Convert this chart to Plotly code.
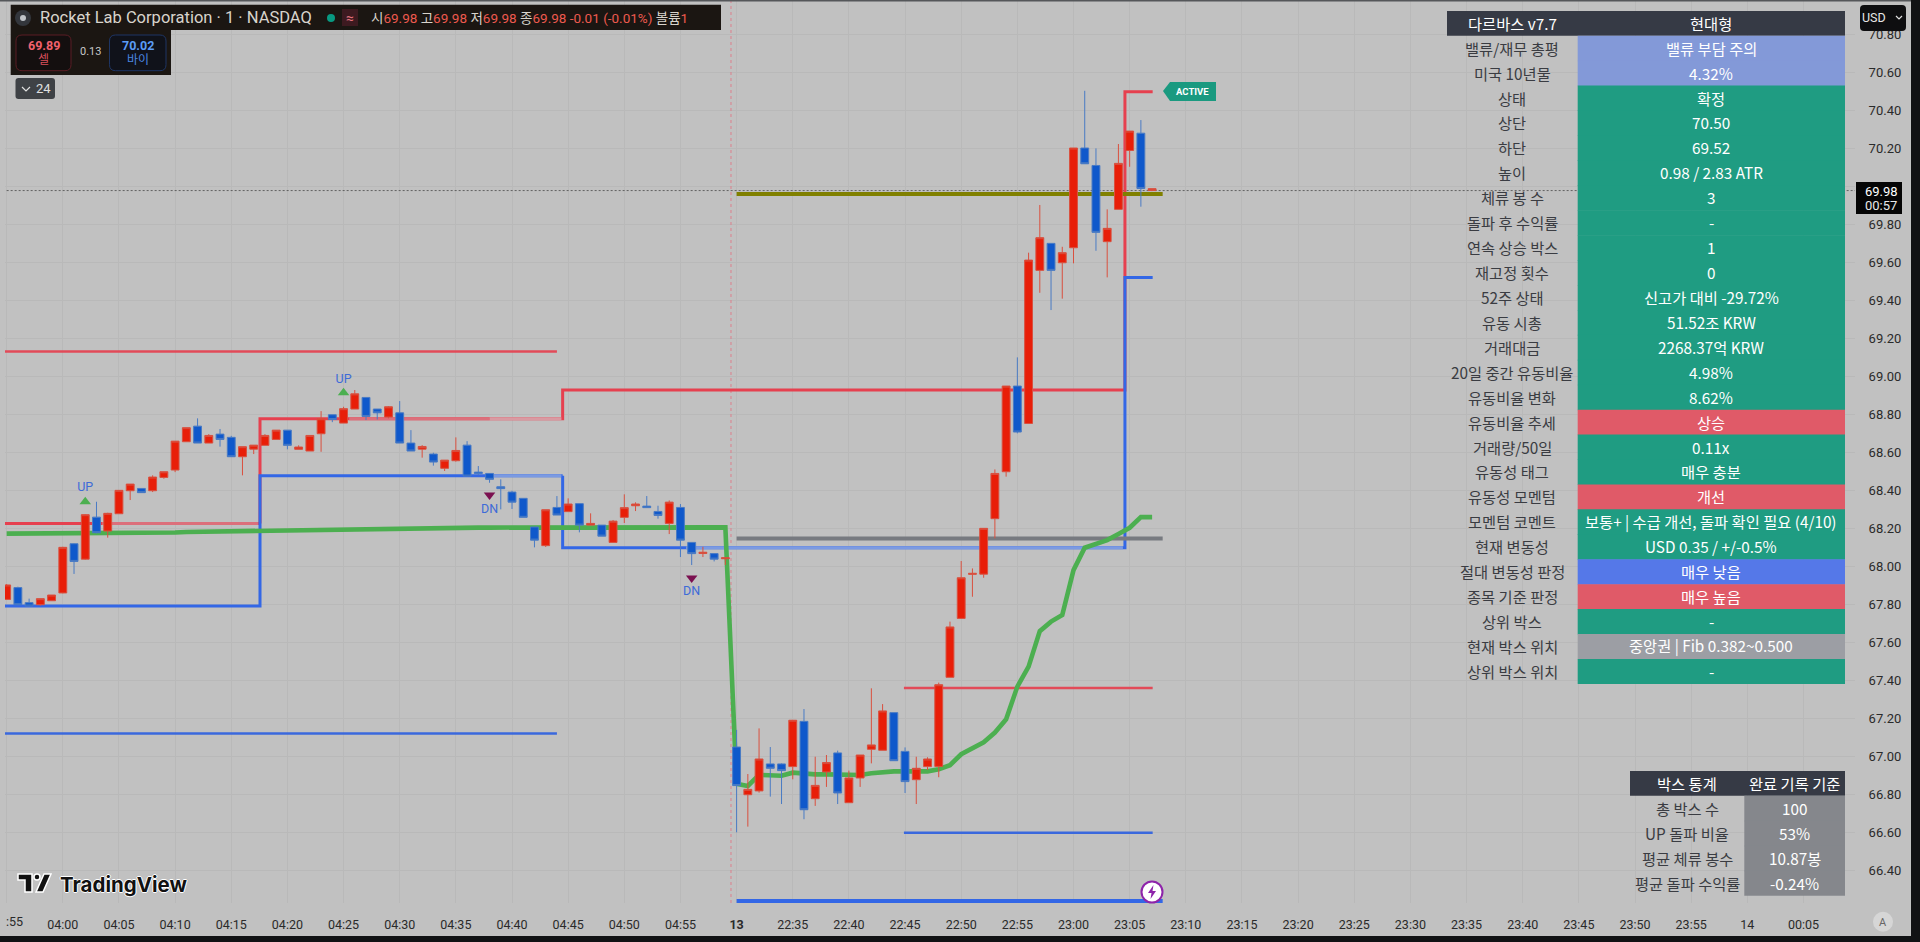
import plotly.graph_objects as go

BG = "#c1c1c1"
GRID = "#b9b9b9"
UP_RED = "#e81e08"
DOWN_BLUE = "#0f58cb"
FONT = "Roboto, 'Noto Sans CJK KR', sans-serif"
KR_FONT = "'Noto Sans CJK KR', sans-serif"

# Candles, one entry per 1 minute bar (axis runs on bar numbers like TradingView)
bar_index = list(range(-5, 98))
bar_open = [
    67.828, 67.890, 67.811, 67.800, 67.821, 67.862, 68.121, 68.040, 68.261, 68.188,
    68.279, 68.400, 68.412, 68.400, 68.470, 68.509, 68.658, 68.740, 68.651, 68.698,
    68.681, 68.579, 68.619, 68.639, 68.670, 68.719, 68.618, 68.609, 68.700, 68.800,
    68.756, 68.830, 68.891, 68.830, 68.788, 68.810, 68.651, 68.619, 68.593, 68.518,
    68.558, 68.640, 68.498, 68.491, 68.421, 68.393, 68.360, 68.209, 68.111, 68.312,
    68.290, 68.332, 68.219, 68.219, 68.128, 68.260, 68.321, 68.319, 68.291, 68.228,
    68.312, 68.128, 68.070, 68.069, 68.042, 67.051, 66.800, 66.820, 66.962, 66.962,
    66.948, 67.186, 66.779, 66.920, 67.020, 66.758, 66.888, 67.039, 67.034, 67.232,
    67.028, 66.879, 66.948, 66.949, 67.418, 67.728, 67.960, 67.961, 68.253, 68.500,
    68.951, 68.754, 69.560, 69.702, 69.600, 69.679, 70.204, 70.112, 69.711, 69.881,
    70.191, 70.282, 69.980]
bar_high = [
    67.909, 67.895, 67.832, 67.832, 67.851, 68.105, 68.123, 68.277, 68.342, 68.284,
    68.402, 68.435, 68.412, 68.481, 68.500, 68.661, 68.732, 68.781, 68.698, 68.725,
    68.689, 68.632, 68.640, 68.698, 68.719, 68.719, 68.639, 68.691, 68.819, 68.800,
    68.842, 68.930, 68.891, 68.830, 68.846, 68.872, 68.719, 68.640, 68.600, 68.561,
    68.681, 68.661, 68.530, 68.491, 68.460, 68.400, 68.360, 68.209, 68.300, 68.372,
    68.360, 68.332, 68.281, 68.219, 68.246, 68.381, 68.339, 68.372, 68.321, 68.349,
    68.330, 68.128, 68.105, 68.069, 68.047, 67.141, 66.909, 67.149, 67.051, 66.965,
    67.192, 67.251, 67.000, 67.009, 67.032, 66.927, 67.009, 67.360, 67.277, 67.232,
    67.049, 67.000, 66.997, 67.390, 67.711, 68.030, 67.991, 68.202, 68.512, 68.951,
    69.102, 69.653, 69.904, 69.702, 69.684, 70.204, 70.505, 70.202, 69.881, 70.225,
    70.293, 70.351, 69.990]
bar_low = [
    67.825, 67.797, 67.790, 67.795, 67.821, 67.860, 67.962, 68.037, 68.176, 68.153,
    68.279, 68.351, 68.390, 68.393, 68.463, 68.498, 68.658, 68.651, 68.651, 68.632,
    68.579, 68.481, 68.593, 68.639, 68.670, 68.618, 68.618, 68.609, 68.605, 68.761,
    68.756, 68.830, 68.772, 68.775, 68.781, 68.651, 68.609, 68.574, 68.532, 68.504,
    68.553, 68.477, 68.482, 68.442, 68.302, 68.304, 68.260, 68.102, 68.104, 68.272,
    68.290, 68.181, 68.219, 68.161, 68.128, 68.230, 68.293, 68.311, 68.253, 68.172,
    68.051, 68.009, 68.051, 68.028, 68.009, 66.602, 66.632, 66.811, 66.790, 66.751,
    66.881, 66.671, 66.741, 66.841, 66.751, 66.758, 66.841, 66.965, 67.034, 66.979,
    66.809, 66.751, 66.930, 66.892, 67.418, 67.728, 67.842, 67.942, 68.149, 68.474,
    68.702, 68.754, 69.442, 69.351, 69.411, 69.597, 70.121, 69.663, 69.523, 69.881,
    70.105, 69.895, 69.980]
bar_close = [
    67.904, 67.800, 67.793, 67.832, 67.851, 68.102, 68.028, 68.274, 68.179, 68.281,
    68.402, 68.435, 68.390, 68.472, 68.500, 68.661, 68.732, 68.651, 68.691, 68.670,
    68.579, 68.632, 68.640, 68.691, 68.719, 68.639, 68.630, 68.691, 68.779, 68.775,
    68.832, 68.910, 68.791, 68.810, 68.842, 68.651, 68.609, 68.633, 68.551, 68.561,
    68.612, 68.477, 68.491, 68.460, 68.411, 68.340, 68.260, 68.140, 68.300, 68.272,
    68.330, 68.219, 68.228, 68.161, 68.240, 68.311, 68.330, 68.311, 68.270, 68.340,
    68.140, 68.069, 68.076, 68.040, 68.047, 66.848, 66.828, 66.988, 66.939, 66.927,
    67.192, 66.721, 66.849, 66.969, 66.809, 66.888, 67.009, 67.062, 67.241, 66.979,
    66.869, 66.939, 66.988, 67.379, 67.683, 67.942, 67.965, 68.202, 68.491, 68.951,
    68.709, 69.614, 69.732, 69.560, 69.653, 70.204, 70.121, 69.760, 69.781, 70.123,
    70.293, 69.991, 69.990]

# Green moving average
ma_values = [
    68.174, 68.174, 68.174, 68.174, 68.174, 68.174, 68.174, 68.174, 68.174, 68.174,
    68.174, 68.174, 68.174, 68.174, 68.176, 68.180, 68.183, 68.184, 68.185, 68.185,
    68.185, 68.186, 68.186, 68.187, 68.188, 68.189, 68.190, 68.191, 68.192, 68.193,
    68.195, 68.196, 68.197, 68.198, 68.200, 68.205, 68.206, 68.206, 68.206, 68.206,
    68.206, 68.206, 68.206, 68.206, 68.206, 68.206, 68.206, 68.206, 68.206, 68.206,
    68.207, 68.207, 68.207, 68.207, 68.207, 68.207, 68.207, 68.207, 68.207, 68.207,
    68.207, 68.207, 68.207, 68.207, 68.207, 66.857, 66.846, 66.904, 66.902, 66.900,
    66.916, 66.909, 66.907, 66.907, 66.904, 66.902, 66.904, 66.913, 66.920, 66.923,
    66.923, 66.921, 66.923, 66.934, 66.955, 67.013, 67.044, 67.076, 67.127, 67.197,
    67.369, 67.474, 67.661, 67.711, 67.746, 67.982, 68.100, 68.119, 68.140, 68.172,
    68.205, 68.261, 68.261]

# Darvas box edges
box_top_x = [-5.2, 17.56, None, 17.56, 17.56, 44.51, 44.51, 94.58, 94.58, 97.05]
box_top_y = [68.228, 68.228, None, 68.228, 68.779, 68.779, 68.930, 68.930, 70.50, 70.50]
box_bottom_x = [-5.2, 17.56, 17.56, 44.51, None, 44.51, 44.51, 94.58, 94.58, 97.05]
box_bottom_y = [67.793, 67.793, 68.479, 68.479, None, 68.479, 68.100, 68.100, 69.523, 69.523]
faded_top_x = [3.5, 17.4, None, 25.5, 38.0]
faded_top_y = [68.228, 68.228, None, 68.779, 68.779]
paler_top_x = [38.0, 44.4]
paler_top_y = [68.779, 68.779]
faded_bottom_x = [38.0, 44.4, None, 55.5, 94.4]
faded_bottom_y = [68.479, 68.479, None, 68.100, 68.100]

# Flat level lines
old_top_x = [-5.2, 44.0]
old_top_y = [69.133, 69.133]
old_bottom_x = [-5.2, 44.0]
old_bottom_y = [67.122, 67.122]
range_top_x = [74.9, 97.05]
range_top_y = [67.362, 67.362]
range_bottom_x = [74.9, 97.05]
range_bottom_y = [66.600, 66.600]
olive_x = [60, 97.94]
olive_y = [69.962, 69.962]
gray_x = [60, 97.94]
gray_y = [68.149, 68.149]
low_x = [60, 97.94]
low_y = [66.24, 66.24]
last_price = 69.98
session_break = 59.5

# Breakout signals
up_x = [2, 25]
up_marker_y = [68.342, 68.916]
up_label_y = [68.416, 68.982]
dn_x = [38, 56]
dn_marker_y = [68.377, 67.941]
dn_label_y = [68.298, 67.865]

# Axis ticks
time_ticks = list(range(-5, 160, 5))
time_labels = ["", "04:00", "04:05", "04:10", "04:15", "04:20", "04:25", "04:30", "04:35",
               "04:40", "04:45", "04:50", "04:55", "<b>13</b>", "22:35", "22:40", "22:45",
               "22:50", "22:55", "23:00", "23:05", "23:10", "23:15", "23:20", "23:25",
               "23:30", "23:35", "23:40", "23:45", "23:50", "23:55", "14", "00:05"]
# 70.00 sits behind the last price tag, so its label stays empty
price_ticks = [66.4, 66.6, 66.8, 67.0, 67.2, 67.4, 67.6, 67.8, 68.0, 68.2, 68.4, 68.6, 68.8,
               69.0, 69.2, 69.4, 69.6, 69.8, 70.0, 70.2, 70.4, 70.6, 70.8]
price_labels = ["66.40", "66.60", "66.80", "67.00", "67.20", "67.40", "67.60", "67.80", "68.00",
                "68.20", "68.40", "68.60", "68.80", "69.00", "69.20", "69.40", "69.60", "69.80",
                "", "70.20", "70.40", "70.60", "70.80"]

# Main status table
table_labels = ["밸류/재무 총평", "미국 10년물", "상태", "상단", "하단", "높이", "체류 봉 수",
                "돌파 후 수익률", "연속 상승 박스", "재고정 횟수", "52주 상태", "유동 시총",
                "거래대금", "20일 중간 유동비율", "유동비율 변화", "유동비율 추세", "거래량/50일",
                "유동성 태그", "유동성 모멘텀", "모멘텀 코멘트", "현재 변동성", "절대 변동성 판정",
                "종목 기준 판정", "상위 박스", "현재 박스 위치", "상위 박스 위치"]
table_values = ["밸류 부담 주의", "4.32%", "확정", "70.50", "69.52", "0.98 / 2.83 ATR", "3", "-",
                "1", "0", "신고가 대비 -29.72%", "51.52조 KRW", "2268.37억 KRW", "4.98%", "8.62%",
                "상승", "0.11x", "매우 충분", "개선", "보통+ | 수급 개선, 돌파 확인 필요 (4/10)",
                "USD 0.35 / +/-0.5%", "매우 낮음", "매우 높음", "-", "중앙권 | Fib 0.382~0.500", "-"]
TEAL = "#1f9c82"
PERI = "#8399d8"
CELL_RED = "#e05a68"
CELL_BLUE = "#5578e8"
CELL_GRAY = "#9c9ea4"
table_colors = [PERI, PERI] + [TEAL] * 13 + [CELL_RED, TEAL, TEAL, CELL_RED, TEAL, TEAL,
                                             CELL_BLUE, CELL_RED, TEAL, CELL_GRAY, TEAL]

# Box statistics table
stats_labels = ["총 박스 수", "UP 돌파 비율", "평균 체류 봉수", "평균 돌파 수익률"]
stats_values = ["100", "53%", "10.87봉", "-0.24%"]


def px_x(v):
    return v / 1920


def px_y(v):
    return 1 - v / 942


def note(x, y, text, size=13, color="#ffffff", anchor="center", family=FONT, **font_extra):
    return dict(xref="paper", yref="paper", x=px_x(x), y=px_y(y), text=text, showarrow=False,
                xanchor=anchor, yanchor="middle", align=anchor,
                font=dict(size=size, color=color, family=family, **font_extra))


def rect(x0, y0, x1, y1, fill, line=None):
    return dict(type="rect", xref="paper", yref="paper", layer="above",
                x0=px_x(x0), x1=px_x(x1), y0=px_y(y0), y1=px_y(y1), fillcolor=fill,
                line=dict(width=1 if line else 0, color=line or fill))


def round_rect(x0, y0, x1, y1, r, fill, line=None):
    pts = (f"M{px_x(x0 + r)},{px_y(y0)} L{px_x(x1 - r)},{px_y(y0)} "
           f"Q{px_x(x1)},{px_y(y0)} {px_x(x1)},{px_y(y0 + r)} L{px_x(x1)},{px_y(y1 - r)} "
           f"Q{px_x(x1)},{px_y(y1)} {px_x(x1 - r)},{px_y(y1)} L{px_x(x0 + r)},{px_y(y1)} "
           f"Q{px_x(x0)},{px_y(y1)} {px_x(x0)},{px_y(y1 - r)} L{px_x(x0)},{px_y(y0 + r)} "
           f"Q{px_x(x0)},{px_y(y0)} {px_x(x0 + r)},{px_y(y0)} Z")
    return dict(type="path", xref="paper", yref="paper", layer="above", path=pts, fillcolor=fill,
                line=dict(width=1 if line else 0, color=line or fill))


def poly(points, fill, line_color=None, line_width=0, closed=True):
    path = "M" + " L".join(f"{px_x(x)},{px_y(y)}" for x, y in points) + (" Z" if closed else "")
    return dict(type="path", xref="paper", yref="paper", layer="above", path=path,
                fillcolor=fill, line=dict(width=line_width, color=line_color or fill))


def circle(cx, cy, r, fill, line=None, width=0):
    return dict(type="circle", xref="paper", yref="paper", layer="above",
                x0=px_x(cx - r), x1=px_x(cx + r), y0=px_y(cy - r), y1=px_y(cy + r),
                fillcolor=fill, line=dict(width=width, color=line or fill))


def line_trace(x, y, color, width, dash="solid"):
    return go.Scatter(x=x, y=y, mode="lines", hoverinfo="skip", showlegend=False,
                      line=dict(color=color, width=width, dash=dash), connectgaps=False)


fig = go.Figure()

# Levels and MA sit on the base axes, the candles on an overlay so they stay on top
fig.add_trace(line_trace(bar_index[:1] + [159.6], [last_price, last_price], "#4a4a4a", 0.8, "2px,2px"))
fig.add_trace(line_trace([session_break, session_break], [66.23, 70.98], "#dc7f8c", 1, "3px,3px"))
fig.add_trace(line_trace(old_top_x, old_top_y, "#e24a58", 2.4))
fig.add_trace(line_trace(old_bottom_x, old_bottom_y, "#3a68dd", 2.4))
fig.add_trace(line_trace(range_top_x, range_top_y, "#e24a58", 2.4))
fig.add_trace(line_trace(range_bottom_x, range_bottom_y, "#3a68dd", 2.4))
fig.add_trace(line_trace(box_top_x, box_top_y, "#e6404f", 3))
fig.add_trace(line_trace(faded_top_x, faded_top_y, "#dc6f7b", 3))
fig.add_trace(line_trace(paler_top_x, paler_top_y, "#d99aa2", 3))
fig.add_trace(line_trace(box_bottom_x, box_bottom_y, "#3367e6", 3))
fig.add_trace(line_trace(faded_bottom_x, faded_bottom_y, "#7b9ae2", 3))
fig.add_trace(line_trace(olive_x, olive_y, "#808000", 4))
fig.add_trace(line_trace(gray_x, gray_y, "#777a80", 4))
fig.add_trace(line_trace(low_x, low_y, "#3367e6", 4))
fig.add_trace(line_trace(bar_index, ma_values, "#4caf50", 4.6))

fig.add_trace(go.Candlestick(
    x=bar_index, open=bar_open, high=bar_high, low=bar_low, close=bar_close,
    xaxis="x2", yaxis="y2", showlegend=False, hoverinfo="skip", whiskerwidth=0,
    increasing=dict(fillcolor=UP_RED, line=dict(color="#d9503f", width=1)),
    decreasing=dict(fillcolor=DOWN_BLUE, line=dict(color="#4a7bc4", width=1))))

# UP / DN signals
fig.add_trace(go.Scatter(x=up_x, y=up_marker_y, mode="markers", xaxis="x2", yaxis="y2", showlegend=False,
                         hoverinfo="skip", marker=dict(symbol="triangle-up", size=10, color="#4caf50")))
fig.add_trace(go.Scatter(x=dn_x, y=dn_marker_y, mode="markers", xaxis="x2", yaxis="y2", showlegend=False,
                         hoverinfo="skip", marker=dict(symbol="triangle-down", size=10, color="#7b1050")))
fig.add_trace(go.Scatter(x=up_x + dn_x, y=up_label_y + dn_label_y, mode="text", text=["UP", "UP", "DN", "DN"],
                         xaxis="x2", yaxis="y2", showlegend=False, hoverinfo="skip",
                         textfont=dict(size=12.5, color="#3d6bd8", family=FONT)))

shapes = [
    # window frame
    rect(0, 0, 1920, 1.5, "#55575a"),
    rect(1911, 0, 1920, 942, "#111214"),
    rect(0, 936, 1920, 942, "#111214"),
    # legend panels
    rect(10.7, 4.7, 721, 30, "#1b1612"),
    rect(10.7, 30, 171, 75, "#1b1612"),
    circle(23, 18, 8, "#33363c"),
    circle(23, 18, 3, "#bfc3c8"),
    circle(331, 18, 4, "#089981"),
    rect(342, 9, 358, 26, "#3d1a20"),
    round_rect(16, 35, 71, 70.7, 6, "#140f0f", "#5a1d24"),
    round_rect(109.5, 35, 166, 70.7, 6, "#10121a", "#1e3564"),
    round_rect(15.5, 78, 55, 99, 3, "#3f4246"),
    poly([(22, 87), (26, 91), (30, 87)], "rgba(0,0,0,0)", "#e0e0e0", 1.2, closed=False),
    # USD button and last price tag
    round_rect(1860, 5, 1906, 31, 4, "#0e0e10"),
    poly([(1896, 16), (1899, 19), (1902, 16)], "rgba(0,0,0,0)", "#e0e0e0", 1.2, closed=False),
    rect(1856, 182, 1902, 214, "#050505"),
    # auto-scale button
    circle(1883, 921.7, 10, "#d6d6d6"),
    # ACTIVE flag
    poly([(1163, 91), (1170, 82), (1216, 82), (1216, 101), (1170, 101)], "#1a9a80"),
    # alert badge
    circle(1152, 892, 10.5, "#ffffff", "#8e24aa", 2),
    poly([(1153.5, 885), (1148, 893), (1151.5, 893), (1150.5, 899), (1156, 891), (1152.5, 891)], "#8e24aa"),
    # TradingView logo mark
    poly([(18, 874), (32, 874), (32, 892), (25, 892), (25, 880), (18, 880)], "#111111", "#ffffff", 1.5),
    circle(37, 877, 3, "#111111", "#ffffff", 1.5),
    poly([(44, 874), (51, 874), (43, 892), (36, 892)], "#111111", "#ffffff", 1.5),
]

legend_text = ("<span style='color:#d8d4cc'>시</span>69.98 <span style='color:#d8d4cc'>고</span>69.98 "
               "<span style='color:#d8d4cc'>저</span>69.98 <span style='color:#d8d4cc'>종</span>69.98 "
               "-0.01 (-0.01%) <span style='color:#d8d4cc'>볼륨</span>1")
annotations = [
    note(37.5, 18, "Rocket Lab Corporation · 1 · NASDAQ", 16.5, "#d8d4cc", "left"),
    note(350, 18, "≈", 14, "#e0707c"),
    note(369, 18, legend_text, 13.5, "#ee5a4f", "left"),
    note(43.5, 45.5, "<b>69.89</b>", 12.5, "#f0616d"),
    note(43.5, 60, "셀", 12, "#d9505c"),
    note(90.6, 52, "0.13", 11, "#c8c8c8"),
    note(138, 45.5, "<b>70.02</b>", 12.5, "#5b9cf6"),
    note(138, 60, "바이", 12, "#4a86e0"),
    note(43, 88.5, "24", 13, "#e0e0e0"),
    note(1874, 18, "USD", 12.5, "#e6e6e6"),
    note(1881, 191, "69.98", 13, "#ffffff"),
    note(1881, 205, "00:57", 13, "#e8e8e8"),
    note(1883, 922, "A", 11, "#666666"),
    note(1192, 91.5, "<b>ACTIVE</b>", 9.5, "#ffffff"),
    note(14, 921, ":55", 12.5, "#2a2a2a"),
    note(58, 884.5, "<b>TradingView</b>", 20.5, "#111111", "left", "Inter, sans-serif",
         shadow="1px 0 0 #fff, -1px 0 0 #fff, 0 1px 0 #fff, 0 -1px 0 #fff"),
]


# Draw a two column table as cell rectangles with centred text
def add_table(left, split, right, top, head_h, row_h, head, labels, values, fills, size=15.3):
    shapes.append(rect(left, top, right, top + head_h, "#363a45"))
    annotations.append(note((left + split) / 2, top + head_h / 2, head[0], size, "#ffffff", family=KR_FONT))
    annotations.append(note((split + right) / 2, top + head_h / 2, head[1], size, "#ffffff", family=KR_FONT))
    last = len(labels) - 1
    for i in range(len(labels)):
        # cells overlap slightly so no seam shows between rows of the same colour
        y0 = top + head_h + row_h * i
        y1 = y0 + row_h + (0 if i == last else 0.6)
        shapes.append(rect(split, y0, right, y1, fills[i]))
        annotations.append(note((left + split) / 2, y0 + row_h / 2 - 0.5, labels[i], size, "#3a3c42", family=KR_FONT))
        annotations.append(note((split + right) / 2, y0 + row_h / 2 - 0.5, values[i], size, "#ffffff", family=KR_FONT))


add_table(1447, 1577.7, 1845, 11, 24.7, 24.93, ["다르바스 v7.7", "현대형"],
          table_labels, table_values, table_colors)
add_table(1630, 1744.3, 1845, 771, 24.7, 25, ["박스 통계", "완료 기록 기준"],
          stats_labels, stats_values, ["#85878c"] * 4)

x_range = [-5.147, 159.59]
y_range = [66.23, 70.983]
fig.update_layout(
    width=1920, height=942, margin=dict(l=0, r=0, t=0, b=0, pad=0),
    paper_bgcolor=BG, plot_bgcolor=BG, showlegend=False, hovermode=False,
    boxgap=0, boxgroupgap=0.3, shapes=shapes, annotations=annotations,
    xaxis=dict(domain=[px_x(5), px_x(1855)], range=x_range, tickmode="array", tickvals=time_ticks,
               ticktext=time_labels, showgrid=True, gridcolor=GRID, gridwidth=1, zeroline=False,
               showline=False, ticks="outside", ticklen=10, tickcolor=BG, tickangle=0,
               tickfont=dict(size=12.5, color="#2a2a2a", family=FONT), fixedrange=True),
    yaxis=dict(domain=[px_y(903), 1], range=y_range, side="right", tickmode="array", tickvals=price_ticks,
               ticktext=price_labels, showgrid=True, gridcolor=GRID, gridwidth=1, zeroline=False,
               showline=False, ticks="outside", ticklen=10, tickcolor=BG,
               tickfont=dict(size=13, color="#2a2a2a", family=FONT), fixedrange=True),
    xaxis2=dict(overlaying="x", range=x_range, visible=False, rangeslider=dict(visible=False), fixedrange=True),
    yaxis2=dict(overlaying="y", range=y_range, visible=False, fixedrange=True),
)

fig.write_html("out.html", config={"displayModeBar": False}, post_script="document.body.style.margin='0';")
